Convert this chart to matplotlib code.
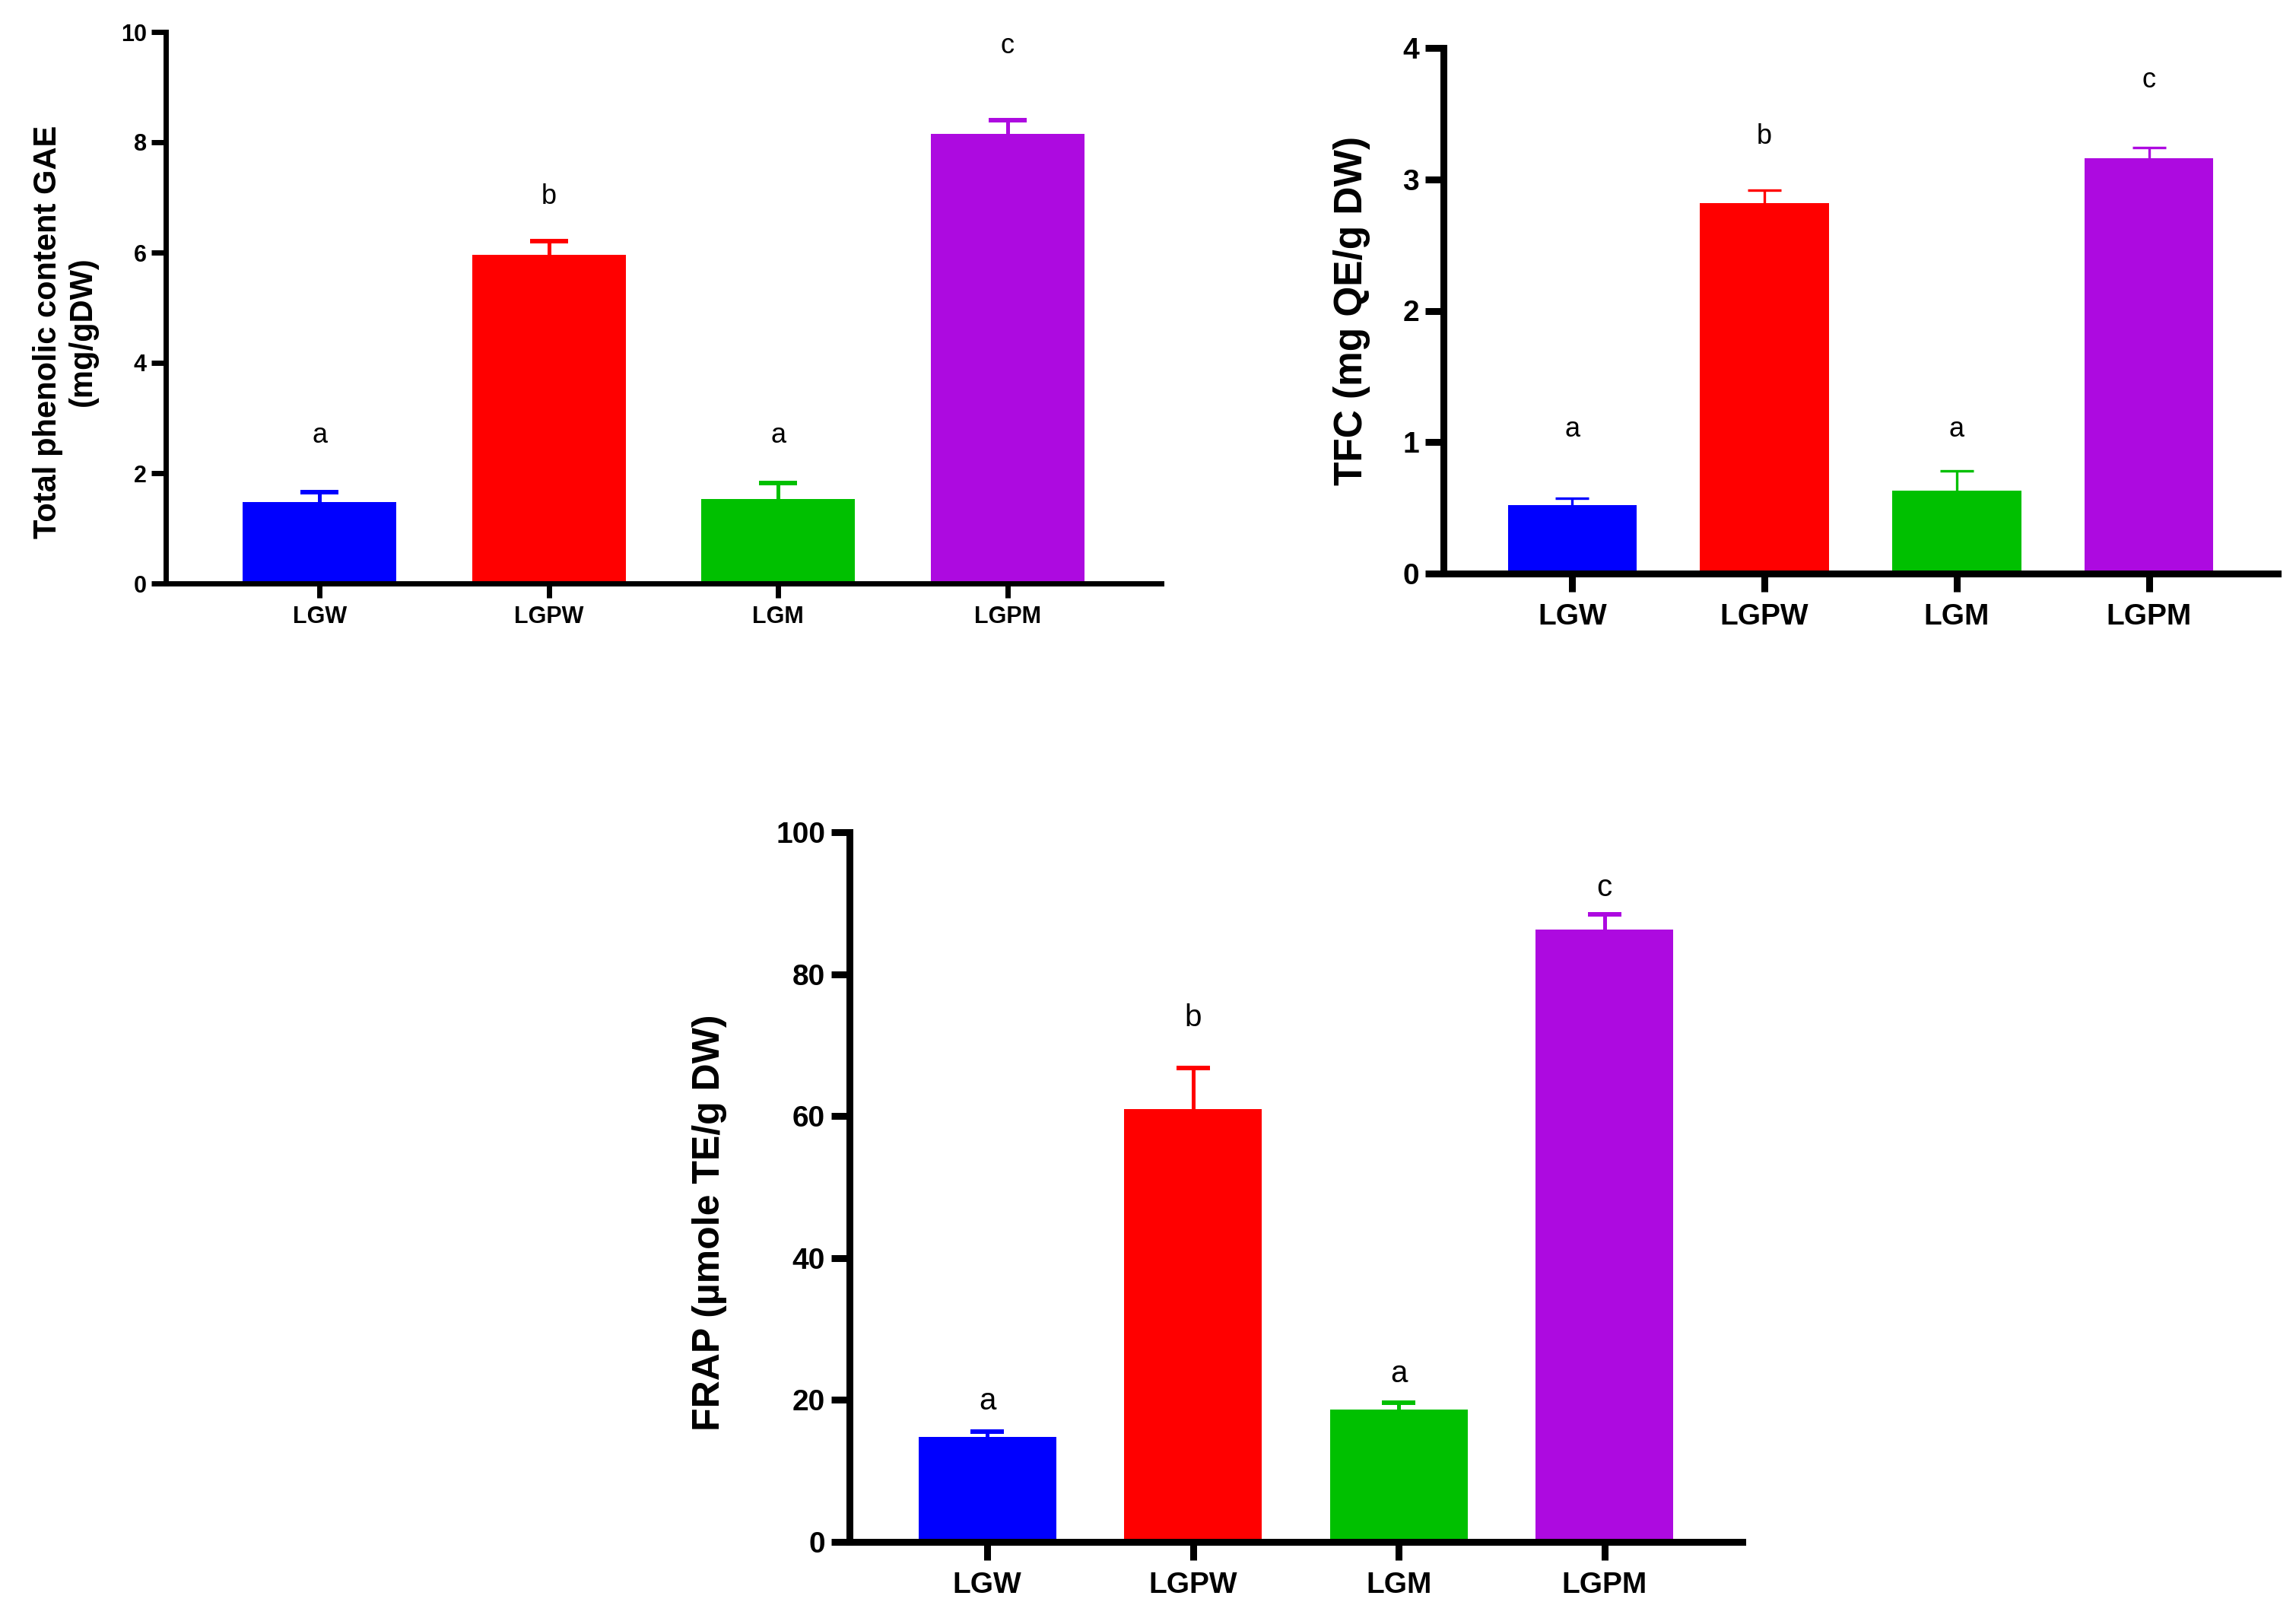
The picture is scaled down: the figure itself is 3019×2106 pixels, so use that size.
import matplotlib
matplotlib.use('Agg')
import matplotlib.pyplot as plt
import numpy as np

plt.rcParams['font.family'] = ['Liberation Sans', 'DejaVu Sans']

categories = ['LGW', 'LGPW', 'LGM', 'LGPM']
bar_colors = ['#0000FF', '#FF0000', '#00C000', '#AD0AE0']

# Panel 1: total phenolic content
tpc_values = [1.48, 5.96, 1.53, 8.15]
tpc_errors = [0.18, 0.25, 0.29, 0.25]
tpc_letters = ['a', 'b', 'a', 'c']
tpc_letter_y = [2.55, 6.88, 2.55, 9.61]
tpc_yticks = [0, 2, 4, 6, 8, 10]
tpc_label = 'Total phenolic content GAE\n(mg/gDW)'

# Panel 2: TFC
tfc_values = [0.52, 2.82, 0.63, 3.16]
tfc_errors = [0.055, 0.10, 0.15, 0.08]
tfc_letters = ['a', 'b', 'a', 'c']
tfc_letter_y = [1.04, 3.27, 1.04, 3.70]
tfc_yticks = [0, 1, 2, 3, 4]
tfc_label = 'TFC (mg QE/g DW)'

# Panel 3: FRAP
frap_values = [14.8, 61.0, 18.7, 86.3]
frap_errors = [0.7, 5.8, 0.9, 2.1]
frap_letters = ['a', 'b', 'a', 'c']
frap_letter_y = [18.6, 72.7, 22.5, 91.0]
frap_yticks = [0, 20, 40, 60, 80, 100]
frap_label = 'FRAP (\u00b5mole TE/g DW)'

W, H = 3019, 2106
fig = plt.figure(figsize=(W / 100, H / 100), dpi=100)
fig.patch.set_facecolor('white')


def px_rect(left, top, right, bottom):
    return [left / W, 1 - bottom / H, (right - left) / W, (bottom - top) / H]


def panel(rect, values, errors, letters, letter_y, yticks, ylabel, label_xy,
          label_size, tick_size, letter_size, spine_w, tick_len, xpad, ypad,
          elw, capsize, capthick):
    ax = fig.add_axes(rect)
    x = np.arange(len(categories))
    ax.bar(x, values, width=0.67, color=bar_colors, zorder=1)
    for i in range(len(x)):
        eb = ax.errorbar(x[i], values[i], yerr=[[0], [errors[i]]], fmt='none',
                         ecolor=bar_colors[i], elinewidth=elw, capsize=capsize,
                         capthick=capthick, zorder=2)
        for cl in eb[1]:
            if abs(cl.get_ydata()[0] - values[i]) < 1e-9:
                cl.set_visible(False)
        ax.text(x[i], letter_y[i], letters[i], ha='center', va='baseline',
                fontsize=letter_size, color='black')
    ax.set_xlim(-0.67, len(categories) - 1 + 0.67)
    ax.set_ylim(yticks[0], yticks[-1])
    ax.set_yticks(yticks)
    ax.set_xticks(x)
    ax.set_xticklabels(categories, fontweight='bold')
    ax.set_yticklabels([str(t) for t in yticks], fontweight='bold')
    for s in ['top', 'right']:
        ax.spines[s].set_visible(False)
    for s in ['left', 'bottom']:
        ax.spines[s].set_linewidth(spine_w)
        ax.spines[s].set_color('black')
    ax.tick_params(axis='both', direction='out', length=tick_len, width=spine_w,
                   labelsize=tick_size, colors='black')
    ax.tick_params(axis='x', pad=xpad)
    ax.tick_params(axis='y', pad=ypad)
    fig.text(label_xy[0] / W, 1 - label_xy[1] / H, ylabel, rotation=90,
             ha='center', va='center', multialignment='center',
             fontsize=label_size, fontweight='bold', linespacing=1.2)
    return ax


panel(px_rect(218, 42, 1527, 767), tpc_values, tpc_errors, tpc_letters,
      tpc_letter_y, tpc_yticks, tpc_label, (86, 436),
      label_size=30, tick_size=22, letter_size=26, spine_w=5, tick_len=14,
      xpad=7, ypad=4, elw=3.6, capsize=18, capthick=4.3)

panel(px_rect(1898, 63, 2995, 754), tfc_values, tfc_errors, tfc_letters,
      tfc_letter_y, tfc_yticks, tfc_label, (1778, 408),
      label_size=37, tick_size=28, letter_size=26, spine_w=6.5, tick_len=17,
      xpad=11, ypad=6, elw=2.4, capsize=15.5, capthick=2.4)

panel(px_rect(1117, 1094, 2291, 2027), frap_values, frap_errors, frap_letters,
      frap_letter_y, frap_yticks, frap_label, (933, 1607),
      label_size=36, tick_size=28, letter_size=29, spine_w=6.5, tick_len=17,
      xpad=11, ypad=6, elw=3.6, capsize=16, capthick=4.3)

fig.savefig('out.png', dpi=100, facecolor='white')
